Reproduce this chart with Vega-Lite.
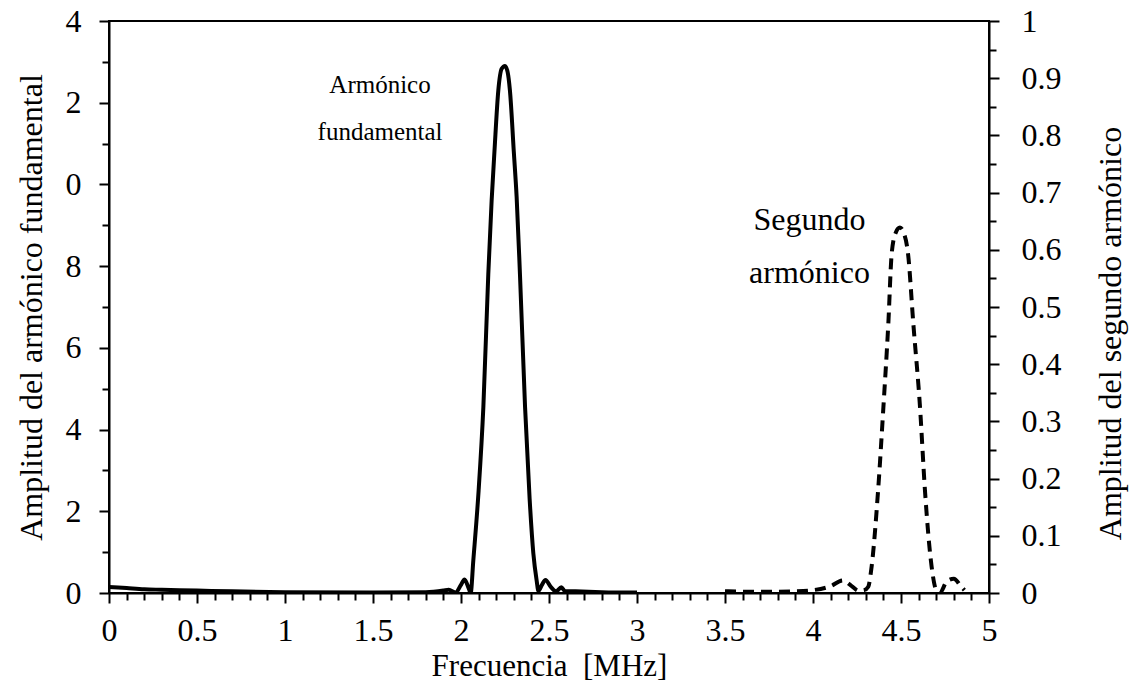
{
  "$schema": "https://vega.github.io/schema/vega-lite/v6.json",
  "width": 880,
  "height": 572,
  "autosize": "none",
  "padding": {"left": 109, "top": 21, "right": 145, "bottom": 99},
  "background": "white",
  "config": {
    "view": {"stroke": "black", "strokeWidth": 2},
    "font": "Liberation Serif"
  },
  "datasets": {
    "fund": [
      {"f": 0, "a": 0.15}, {"f": 0.1, "a": 0.12}, {"f": 0.2, "a": 0.09}, {"f": 0.3, "a": 0.08},
      {"f": 0.5, "a": 0.06}, {"f": 0.7, "a": 0.04}, {"f": 1.0, "a": 0.02}, {"f": 1.5, "a": 0.01},
      {"f": 1.8, "a": 0.02}, {"f": 1.9, "a": 0.06}, {"f": 1.93, "a": 0.08}, {"f": 1.97, "a": 0.01},
      {"f": 2.0, "a": 0.2}, {"f": 2.02, "a": 0.33}, {"f": 2.045, "a": 0.1}, {"f": 2.055, "a": 0.0},
      {"f": 2.07, "a": 0.8}, {"f": 2.1, "a": 2.5}, {"f": 2.127, "a": 4.55}, {"f": 2.155, "a": 7.8},
      {"f": 2.174, "a": 9.6}, {"f": 2.19, "a": 10.8}, {"f": 2.212, "a": 12.3}, {"f": 2.231, "a": 12.83},
      {"f": 2.25, "a": 12.9}, {"f": 2.265, "a": 12.75}, {"f": 2.278, "a": 12.3}, {"f": 2.3, "a": 10.8},
      {"f": 2.316, "a": 9.7}, {"f": 2.335, "a": 7.8}, {"f": 2.364, "a": 4.55}, {"f": 2.39, "a": 2.3},
      {"f": 2.411, "a": 0.97}, {"f": 2.43, "a": 0.3}, {"f": 2.44, "a": 0.05}, {"f": 2.46, "a": 0.2},
      {"f": 2.48, "a": 0.32}, {"f": 2.51, "a": 0.15}, {"f": 2.54, "a": 0.04}, {"f": 2.57, "a": 0.14},
      {"f": 2.59, "a": 0.05}, {"f": 2.65, "a": 0.04}, {"f": 2.8, "a": 0.02}, {"f": 3.0, "a": 0.01}
    ],
    "seg": [
      {"f": 3.5, "b": 0.003}, {"f": 3.7, "b": 0.002}, {"f": 3.9, "b": 0.003}, {"f": 4.0, "b": 0.005},
      {"f": 4.1, "b": 0.012}, {"f": 4.17, "b": 0.022}, {"f": 4.22, "b": 0.012}, {"f": 4.26, "b": 0.004},
      {"f": 4.29, "b": 0.005}, {"f": 4.314, "b": 0.011}, {"f": 4.333, "b": 0.046}, {"f": 4.37, "b": 0.18},
      {"f": 4.4, "b": 0.325}, {"f": 4.428, "b": 0.471}, {"f": 4.447, "b": 0.593}, {"f": 4.47, "b": 0.63},
      {"f": 4.494, "b": 0.639}, {"f": 4.515, "b": 0.63}, {"f": 4.54, "b": 0.593}, {"f": 4.57, "b": 0.471},
      {"f": 4.608, "b": 0.325}, {"f": 4.636, "b": 0.18}, {"f": 4.674, "b": 0.046}, {"f": 4.7, "b": 0.005},
      {"f": 4.72, "b": 0.0}, {"f": 4.76, "b": 0.02}, {"f": 4.8, "b": 0.025}, {"f": 4.84, "b": 0.012},
      {"f": 4.86, "b": 0.005}
    ],
    "labels": [
      {"f": 1.54, "v": 12.43, "t": "Armónico", "s": 25},
      {"f": 1.54, "v": 11.28, "t": "fundamental", "s": 25},
      {"f": 3.98, "v": 9.13, "t": "Segundo", "s": 32},
      {"f": 3.98, "v": 7.83, "t": "armónico", "s": 32}
    ]
  },
  "encoding": {
    "x": {
      "field": "f", "type": "quantitative",
      "scale": {"domain": [0, 5], "nice": false, "zero": false},
      "axis": {
        "values": [0,0.1,0.2,0.3,0.4,0.5,0.6,0.7,0.8,0.9,1,1.1,1.2,1.3,1.4,1.5,1.6,1.7,1.8,1.9,2,2.1,2.2,2.3,2.4,2.5,2.6,2.7,2.8,2.9,3,3.1,3.2,3.3,3.4,3.5,3.6,3.7,3.8,3.9,4,4.1,4.2,4.3,4.4,4.5,4.6,4.7,4.8,4.9,5],
        "title": "Frecuencia \u00a0[MHz]",
        "titleFont": "Liberation Serif", "titleFontSize": 31, "titleFontWeight": "normal", "titleColor": "black", "titlePadding": 5,
        "labelFont": "Liberation Serif", "labelFontSize": 32, "labelColor": "black", "labelPadding": 12,
        "labelExpr": "abs(datum.value*2-round(datum.value*2))<0.001 ? format(datum.value,'~g') : ''",
        "labelFlush": false, "labelOverlap": false, "labelBound": false,
        "tickSize": {"condition": {"test": "abs(datum.value*2-round(datum.value*2))<0.001", "value": 10}, "value": 7},
        "tickColor": "black", "tickWidth": 2, "domainColor": "black", "domainWidth": 2, "grid": false
      }
    }
  },
  "layer": [
    {
      "data": {"name": "fund"},
      "mark": {"type": "line", "color": "black", "strokeWidth": 4, "interpolate": "monotone", "clip": true},
      "encoding": {
        "y": {
          "field": "a", "type": "quantitative",
          "scale": {"domain": [0, 14], "nice": false},
          "axis": {
            "values": [0,1,2,3,4,5,6,7,8,9,10,11,12,13,14],
            "orient": "left",
            "title": "Amplitud del armónico fundamental",
            "titleFont": "Liberation Serif", "titleFontSize": 32, "titleFontWeight": "normal", "titleColor": "black", "titlePadding": 17,
            "labelFont": "Liberation Serif", "labelFontSize": 32, "labelColor": "black", "labelPadding": 18,
            "labelExpr": "datum.value % 2 == 0 ? toString(datum.value % 10) : ''",
            "labelOverlap": false, "labelBound": false, "labelFlush": false,
            "tickSize": {"condition": {"test": "datum.value % 2 == 0", "value": 10}, "value": 7},
            "tickColor": "black", "tickWidth": 2, "domainColor": "black", "domainWidth": 2, "grid": false
          }
        }
      }
    },
    {
      "data": {"name": "labels"},
      "mark": {"type": "text", "color": "black", "font": "Liberation Serif", "align": "center", "baseline": "middle"},
      "encoding": {
        "y": {"field": "v", "type": "quantitative", "scale": {"domain": [0, 14], "nice": false}, "axis": null},
        "text": {"field": "t"},
        "size": {"field": "s", "type": "quantitative", "scale": null, "legend": null}
      }
    },
    {
      "data": {"name": "seg"},
      "mark": {"type": "line", "color": "black", "strokeWidth": 4, "strokeDash": [11, 7], "interpolate": "monotone", "clip": true},
      "encoding": {
        "y": {
          "field": "b", "type": "quantitative",
          "scale": {"domain": [0, 1], "nice": false},
          "axis": {
            "values": [0,0.05,0.1,0.15,0.2,0.25,0.3,0.35,0.4,0.45,0.5,0.55,0.6,0.65,0.7,0.75,0.8,0.85,0.9,0.95,1],
            "orient": "right",
            "title": "Amplitud del segundo armónico",
            "titleAngle": -90,
            "titleBaseline": "top",
            "titleY": 312,
            "titleFont": "Liberation Serif", "titleFontSize": 32, "titleFontWeight": "normal", "titleColor": "black", "titlePadding": 34,
            "labelFont": "Liberation Serif", "labelFontSize": 32, "labelColor": "black", "labelPadding": 22,
            "labelExpr": "abs(datum.value*10-round(datum.value*10))<0.001 ? format(datum.value,'~g') : ''",
            "labelOverlap": false, "labelBound": false, "labelFlush": false,
            "tickSize": {"condition": {"test": "abs(datum.value*10-round(datum.value*10))<0.001", "value": 10}, "value": 7},
            "tickColor": "black", "tickWidth": 2, "domainColor": "black", "domainWidth": 2, "grid": false
          }
        }
      }
    }
  ],
  "resolve": {"scale": {"y": "independent"}, "axis": {"y": "independent"}}
}
